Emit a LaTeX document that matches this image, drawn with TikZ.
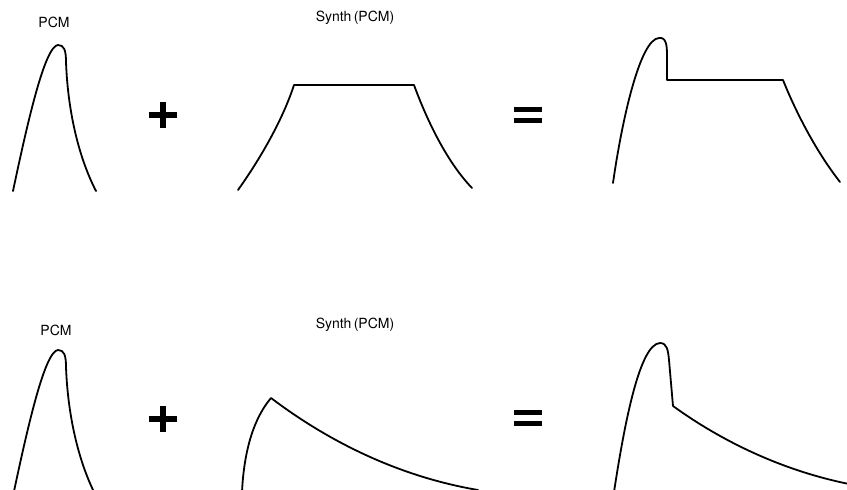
\documentclass[tikz,border=0pt]{standalone}
\usepackage{fontspec}
\setmainfont{TeX Gyre Heros}
\begin{document}
\begin{tikzpicture}[x=1pt,y=-1pt,
  wave/.style={line width=1.8pt, line join=round, line cap=round},
  opsign/.style={line width=5.2pt},
  lbl/.style={inner sep=0pt, font=\fontsize{14}{16}\selectfont}]
\useasboundingbox (0,0) rectangle (847,490);
\clip (0,0) rectangle (847,490);
% ---------- top row ----------
\node[lbl] (pcmA) at (54,22) {PCM};
\draw[wave] (13,191) .. controls (28,120) and (45,46) .. (58,45)
  .. controls (64,45) and (66,50) .. (66,62)
  .. controls (68,115) and (80,160) .. (96,191);
\coordinate (plA) at (163,115);
\draw[opsign] ([xshift=-14pt]plA) -- ([xshift=14pt]plA)
  ([yshift=-13pt]plA) -- ([yshift=13pt]plA);
\node[lbl] (synA) at (355,18) {Synth\,(PCM)};
\draw[wave] (238,190) .. controls (258,162) and (282,122) .. (294,85)
  -- (414,85) .. controls (425,115) and (445,160) .. (472,188);
\coordinate (eqA) at (528,115);
\draw[opsign] ([xshift=-14pt,yshift=-5.5pt]eqA) -- ([xshift=14pt,yshift=-5.5pt]eqA)
  ([xshift=-14pt,yshift=5.5pt]eqA) -- ([xshift=14pt,yshift=5.5pt]eqA);
\draw[wave] (613,183) .. controls (622,120) and (640,39) .. (659,38)
  .. controls (666,37) and (667,45) .. (667,55) -- (667,80) -- (783,80)
  .. controls (795,110) and (815,150) .. (840,182);
% ---------- bottom row ----------
\node[lbl] (pcmB) at (56,330) {PCM};
\draw[wave] (13,496) .. controls (28,425) and (45,351) .. (58,350)
  .. controls (64,350) and (66,355) .. (66,367)
  .. controls (68,420) and (80,465) .. (96,496);
\coordinate (plB) at (163,419);
\draw[opsign] ([xshift=-14pt]plB) -- ([xshift=14pt]plB)
  ([yshift=-13pt]plB) -- ([yshift=13pt]plB);
\node[lbl] (synB) at (355,325) {Synth\,(PCM)};
\draw[wave] (242,492) .. controls (244,450) and (254,418) .. (271,398)
  .. controls (320,435) and (390,475) .. (478,490);
\coordinate (eqB) at (528,418);
\draw[opsign] ([xshift=-14pt,yshift=-5.5pt]eqB) -- ([xshift=14pt,yshift=-5.5pt]eqB)
  ([xshift=-14pt,yshift=5.5pt]eqB) -- ([xshift=14pt,yshift=5.5pt]eqB);
\draw[wave] (614,492) .. controls (625,420) and (640,344) .. (660,343)
  .. controls (667,343) and (668,350) .. (669,360) -- (673,406)
  .. controls (720,440) and (780,470) .. (849,484);
\end{tikzpicture}
\end{document}
